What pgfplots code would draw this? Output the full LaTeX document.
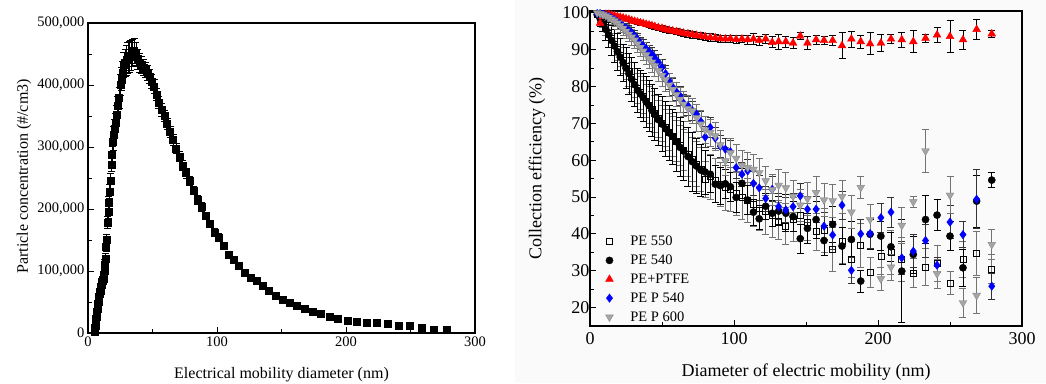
\documentclass[border=0pt]{standalone}
\usepackage{fontspec}
\setmainfont{Liberation Serif}
\usepackage{pgfplots}
\pgfplotsset{compat=1.18}
\definecolor{ptred}{RGB}{255,0,0}
\definecolor{ptblue}{RGB}{0,0,255}
\definecolor{ptgray}{RGB}{165,165,165}
\begin{document}
\begin{tikzpicture}
\useasboundingbox (0pt,0pt) rectangle (1046pt,383pt);
\fill[black!2] (515pt,0pt) rectangle (1046pt,383pt);
% ---------------- left panel ----------------
\begin{axis}[
  at={(88pt,50pt)}, anchor=south west, scale only axis,
  width=387pt, height=310pt,
  xmin=0, xmax=300, ymin=0, ymax=500000,
  xtick={0,100,200,300}, minor xtick={50,150,250},
  ytick={0,100000,200000,300000,400000,500000},
  minor ytick={50000,150000,250000,350000,450000},
  xtick pos=bottom, ytick pos=left, tick align=inside,
  major tick length=6pt, minor tick length=4pt,
  every tick/.style={black, line width=0.8pt},
  axis line style={line width=1.1pt},
  scaled y ticks=false,
  /pgf/number format/assume math mode=true,
  yticklabel style={/pgf/number format/.cd, fixed, 1000 sep={,}},
  tick label style={font=\fontsize{14.5}{16}\selectfont},
  xlabel={Electrical mobility diameter (nm)},
  ylabel={Particle concentration (\#/cm3)},
  every axis x label/.style={at={(axis description cs:0.5,-0.135)}, anchor=center, font=\fontsize{16}{18}\selectfont},
  every axis y label/.style={at={(axis description cs:-0.165,0.505)}, anchor=center, rotate=90, font=\fontsize{16}{18}\selectfont},
]
\addplot[only marks, mark=square*, mark size=3.5pt, black,
  error bars/.cd, y dir=both, y explicit,
  error bar style={line width=0.7pt, black},
  error mark options={rotate=90, mark size=3.5pt, line width=0.7pt}]
table[x=x, y=y, y error=e] {
x y e
5.0 2000 2000
5.2 5000 2000
5.4 8000 2000
5.6 12000 2500
5.8 15000 2500
6.0 19000 3000
6.2 23000 3000
6.4 27000 3000
6.7 31000 3500
6.9 35000 3500
7.2 39000 4000
7.4 43000 4000
7.7 47000 4000
8.0 51000 4500
8.3 55000 4500
8.6 59000 5000
8.9 63000 5000
9.2 66000 5000
9.5 69000 5500
9.9 72000 5500
10.2 75000 6000
10.6 78000 6000
11.0 82000 6000
11.4 85000 6500
11.8 88000 7000
12.2 92000 7000
12.6 100000 7500
13.1 110000 8000
13.6 120000 8000
14.1 140000 9000
14.6 150000 9000
15.1 178000 10000
15.7 195000 10000
16.2 210000 11000
16.8 228000 11000
17.4 245000 12000
18.1 272000 12000
18.7 288000 13000
19.4 308000 13000
20.1 320000 14000
20.9 330000 14000
21.6 340000 15000
22.4 352000 15000
23.2 366000 16000
24.1 380000 17000
25.0 400000 17000
25.9 410000 18000
26.8 420000 18000
27.8 432000 20000
28.8 436000 22000
29.9 440000 24000
31.0 443000 25000
32.1 445000 25000
33.3 448000 24000
34.5 452000 22000
35.8 455000 20000
37.1 450000 18000
38.4 442000 16000
39.8 436000 15000
41.3 432000 14000
42.8 428000 13000
44.4 425000 12000
46.0 420000 12000
47.7 414000 11000
49.4 406000 11000
51.2 398000 11000
53.1 385000 10000
55.0 372000 10000
57.1 360000 10000
59.1 350000 9000
61.3 338000 9000
63.6 324000 9000
65.9 312000 9000
68.3 298000 8000
70.8 285000 8000
73.4 270000 8000
76.1 258000 8000
78.9 245000 7000
81.8 230000 7000
84.8 215000 7000
87.9 203000 7000
91.1 189000 6000
94.4 176000 6000
97.9 162000 6000
101.5 154000 6000
105.2 141000 5000
109.0 127000 5000
113.0 119000 5000
117.2 109000 5000
121.5 97000 4500
125.9 89000 4500
130.5 84000 4000
135.3 76000 4000
140.3 68000 4000
145.4 60000 3500
150.7 53000 3500
156.3 49000 3000
162.0 44000 3000
167.9 40000 3000
174.1 35000 2500
180.4 31000 2500
187.1 26000 2500
193.9 23000 2000
201.0 20000 2000
208.4 18000 2000
216.0 16000 2000
223.9 16000 2000
232.1 15000 2000
240.7 11000 2000
249.5 12000 4000
258.6 8000 2000
268.1 6000 2000
277.9 6000 2000
};
\end{axis}
% ---------------- right panel ----------------
\begin{axis}[
  at={(590pt,57pt)}, anchor=south west, scale only axis,
  width=432pt, height=315pt,
  xmin=0, xmax=300, ymin=15, ymax=100.5,
  xtick={0,100,200,300}, minor xtick={50,150,250},
  ytick={20,30,...,100}, minor ytick={15,25,...,95},
  xtick pos=bottom, ytick pos=left, tick align=inside,
  major tick length=6pt, minor tick length=4pt,
  every tick/.style={black, line width=0.8pt},
  axis line style={line width=1.2pt},
  /pgf/number format/assume math mode=true,
  tick label style={font=\fontsize{18}{20}\selectfont},
  yticklabel style={xshift=3pt},
  xticklabel style={yshift=-3pt},
  xlabel={Diameter of electric mobility (nm)},
  ylabel={Collection efficiency (\%)},
  every axis x label/.style={at={(axis description cs:0.5,-0.146)}, anchor=center, font=\fontsize{18}{20}\selectfont},
  every axis y label/.style={at={(axis description cs:-0.123,0.5)}, anchor=center, rotate=90, font=\fontsize{18}{20}\selectfont},
  legend style={draw=none, fill=none, at={(axis cs:8.6,40.6)}, anchor=north west,
    font=\fontsize{14.5}{15}\selectfont, row sep=3.8pt,
    nodes={inner sep=2pt}},
  legend cell align=left,
]
% PE 550
\addplot[only marks, mark=square, mark size=3pt, black, mark options={fill=white, line width=0.7pt},
  error bars/.cd, y dir=both, y explicit,
  error bar style={line width=0.7pt, black!55},
  error mark options={rotate=90, mark size=3.5pt, line width=0.7pt, black!55}]
table[x=x, y=y, y error=e] {
x y e
5 99.5 0.5
7 98.8 1
9 97.5 1.5
11 96 2
13 94.5 2
15 93 2.5
17 91.5 3
19 90 3
21 88.5 3
23 87 3.5
25 85.5 3.5
27 84 4
29 82.5 4
31 81 4
33 79.5 4
35 78.3 4.5
37 77.2 4.5
39 76 4.5
41 75 5
43 73.8 5
45 72.6 5
47.5 71.3 5
50 70 5
52.5 68.8 5
55 67.6 5
57.5 66.5 5.5
60 65.2 5.5
62.5 64 5.5
65 62.8 5.5
68 61.5 6
71 60.2 6
74 59 6
77 57.5 6
80 54.8 5
83.5 55.5 6
87 54.5 6
90.5 53.5 6
94 52.5 6
97.5 52 6
101.5 51 6
105.5 50 6
109.5 49 6
113.5 48 6
117.5 47 6
122 46 6
126.5 45 6
131 43.5 5
136 42.1 5
141 44 6
146 45 6
151 43.2 5
157 40.6 5
162.5 41 6
168.5 35.8 6
175 38 6
181.5 33.1 5
188 36.8 6
194.5 29.6 4
202 34 5
209 35 6
216.5 33 6
224.5 29.4 4
233 31 5
241 32 5
250 26.7 3
259 33.1 5
268.5 34.7 6
279 30.5 4
};
\addlegendentry{\hspace{15pt}PE 550}
% PE 540
\addplot[only marks, mark=*, mark size=3.6pt, black,
  error bars/.cd, y dir=both, y explicit,
  error bar style={line width=0.7pt, black},
  error mark options={rotate=90, mark size=3.5pt, line width=0.7pt, black}]
table[x=x, y=y, y error=e] {
x y e
5 99.5 0.5
7 98.5 1
9 97 2
11 95.5 3
13 94 3.5
15 92.5 4
17 91 4.5
19 89.5 5
21 88 5
23 86.5 5
25 85 5.5
27 83.5 5.5
29 82 6
31 80.5 6
33 79 6
35 78 6.5
37 77 6.5
39 75.8 7
41 74.8 7
43 73.5 7
45 72.4 7
47.5 71 7
50 69.8 7.5
52.5 68.5 7.5
55 67.4 7.5
57.5 66.4 7.5
60 65 8
62.5 63.5 8
65 62.5 8
68 61 8
71 59.6 8
74 58.4 7.5
77 57.3 7
80 56.8 6
83.5 56.2 5
87 53.5 5
90.5 53.1 5
94 53.6 4
97.5 52.8 4
101.5 49.9 4
105.5 53.7 4
109.5 49.2 4
113.5 45.9 3.5
117.5 44.1 3
122 47.5 3.5
126.5 45.6 3.5
131 46.2 4
136 45.6 5
141 44.7 4
146 38.7 4
151 41.5 4
157 43.9 5
162.5 38.2 4
168.5 42.6 5
175 36.7 5
181.5 38.5 5
188 27.2 3
194.5 39.9 4
202 39.4 4
209 36.5 4
216.5 29.9 14
224.5 34.4 5
233 43.9 6.6
241 45.1 4.2
250 39.4 4
259 30.8 5
268.5 48.9 7
279 54.6 2
};
\addlegendentry{\hspace{15pt}PE 540}
% PE+PTFE
\addplot[only marks, mark=triangle*, mark size=4.5pt, ptred,
  error bars/.cd, y dir=both, y explicit,
  error bar style={line width=0.7pt, black},
  error mark options={rotate=90, mark size=3.5pt, line width=0.7pt, black}]
table[x=x, y=y, y error=e] {
x y e
7 97.2 0.8
9 99.0 0.6
11 99.6 0.5
13 99.6 0.5
15 99.4 0.5
17 99.2 0.5
19 99.0 0.5
21 98.8 0.5
23 98.6 0.5
25 98.4 0.5
27 98.2 0.6
29 97.9 0.6
31 97.7 0.6
33 97.5 0.6
35 97.3 0.6
37 97.1 0.6
39 96.9 0.6
41 96.7 0.7
43 96.5 0.7
45 96.3 0.7
47.5 96.0 0.7
50 95.8 0.7
52.5 95.5 0.8
55 95.3 0.8
57.5 95.1 0.8
60 94.9 0.8
62.5 94.7 0.8
65 94.5 0.8
68 94.3 0.9
71 94.1 0.9
74 93.9 0.9
77 93.7 0.9
80 93.5 1.0
83.5 93.3 1.0
87 93.2 1.0
90.5 93.0 1.0
94 92.9 1.0
97.5 93.0 1.0
101.5 92.8 1.2
105.5 92.9 1.0
109.5 92.7 1.2
113.5 92.9 1.5
117.5 92.5 1.2
122 92.9 1.3
126.5 92.0 1.5
131 92.2 2.0
136 92.2 1.5
141 91.8 1.5
146 93.7 1.0
151 91.8 1.8
157 92.7 1.2
162.5 92.5 1.0
168.5 92.5 1.3
175 91.1 3.5
181.5 92.9 2.2
188 92.2 1.8
194.5 91.6 3.0
202 91.8 2.3
209 92.9 1.3
216.5 92.7 2.0
224.5 92.2 3.0
233 93.1 1.0
241 94.0 2.0
250 93.6 4.3
259 92.7 2.6
268.5 95.5 2.8
279 94.3 1.0
};
\addlegendentry{\hspace{15pt}PE+PTFE}
% PE P 540
\addplot[only marks, mark=diamond*, mark size=4.2pt, ptblue,
  error bars/.cd, y dir=both, y explicit,
  error bar style={line width=0.7pt, black!80},
  error mark options={rotate=90, mark size=3.5pt, line width=0.7pt, black!80}]
table[x=x, y=y, y error=e] {
x y e
5 99.8 0.5
7 99.8 0.5
9 99.6 0.6
11 99.3 0.7
13 99.0 0.8
15 98.6 0.9
17 98.1 1.0
19 97.6 1.0
21 97.0 1.1
23 96.4 1.2
25 95.8 1.3
27 95.2 1.4
29 94.6 1.5
31 93.7 1.5
33 92.8 1.6
35 91.8 1.6
37 91.0 1.7
39 90.2 1.8
41 89.5 1.8
43 88.8 1.9
45 87.8 2.0
47.5 86.6 2.0
50 85.2 2.1
52.5 83.5 2.2
55 81.5 2.2
57.5 79.8 2.3
60 78.6 2.4
62.5 77.5 2.5
65 75.5 2.5
68 74.8 2.5
71 73.5 2.6
74 72.5 2.6
77 70.5 2.7
80 66.3 2.8
83.5 68.9 2.8
87 66.0 2.9
90.5 63.8 3.0
94 63.0 3.0
97.5 62.3 3.0
101.5 58.0 3.0
105.5 56.2 3.2
109.5 57.1 3.2
113.5 53.7 3.3
117.5 52.5 3.3
122 49.6 3.4
126.5 52.1 3.4
131 47.4 3.5
136 46.5 3.5
141 47.4 3.5
146 50.3 3.5
151 46.7 3.6
157 46.7 3.6
162.5 42.1 3.7
168.5 39.7 3.8
175 47.8 3.8
181.5 30.1 3.5
188 40.0 4.0
194.5 40.1 4.0
202 44.4 4.0
209 45.9 4.0
216.5 33.5 4.5
224.5 35.3 4.5
233 38.2 4.5
241 31.5 2.0
250 43.2 4.5
259 39.8 3.5
268.5 49.4 8.0
279 25.8 3.5
};
\addlegendentry{\hspace{15pt}PE P 540}
% PE P 600
\addplot[only marks, mark=triangle*, mark size=4.5pt, ptgray,
  mark options={rotate=180, draw=black!45},
  error bars/.cd, y dir=both, y explicit,
  error bar style={line width=0.7pt, black!55},
  error mark options={rotate=90, mark size=3.5pt, line width=0.7pt, black!55}]
table[x=x, y=y, y error=e] {
x y e
5 100 0.5
7 99.8 0.6
9 99.5 0.8
11 99.2 1.0
13 98.8 1.2
15 98.3 1.4
17 97.8 1.5
19 97.2 1.6
21 96.5 1.7
23 95.8 1.8
25 95.0 1.9
27 94.2 2.0
29 93.4 2.1
31 92.6 2.2
33 91.6 2.3
35 90.6 2.4
37 89.6 2.5
39 88.6 2.6
41 87.6 2.7
43 86.6 2.8
45 85.6 2.9
47.5 84.3 3.0
50 83.0 3.0
52.5 81.8 3.1
55 80.4 3.2
57.5 79.2 3.2
60 77.8 3.3
62.5 76.5 3.4
65 75.2 3.4
68 74.0 3.5
71 73.4 3.5
74 71.5 3.6
77 69.8 3.6
80 68.2 3.7
83.5 67.5 3.7
87 66.6 3.8
90.5 64.2 3.8
94 59.8 3.8
97.5 62.0 3.9
101.5 60.5 3.9
105.5 58.6 4.0
109.5 58.0 4.0
113.5 57.5 4.0
117.5 56.6 4.0
122 54.4 4.0
126.5 52.0 4.2
131 53.2 4.2
136 52.5 4.2
141 50.2 4.3
146 47.8 4.3
151 49.5 4.4
157 51.2 4.4
162.5 49.2 4.5
168.5 49.0 4.5
175 50.1 4.5
181.5 45.9 4.5
188 52.6 3.0
194.5 43.9 4.0
202 27.8 3.0
209 31.0 3.5
216.5 42.3 5.0
224.5 48.7 1.5
233 62.5 5.9
241 29.2 4.0
250 50.5 5.0
259 21.3 4.0
268.5 23.3 5.0
279 37.1 4.0
};
\addlegendentry{\hspace{15pt}PE P 600}
\end{axis}
\end{tikzpicture}
\end{document}
